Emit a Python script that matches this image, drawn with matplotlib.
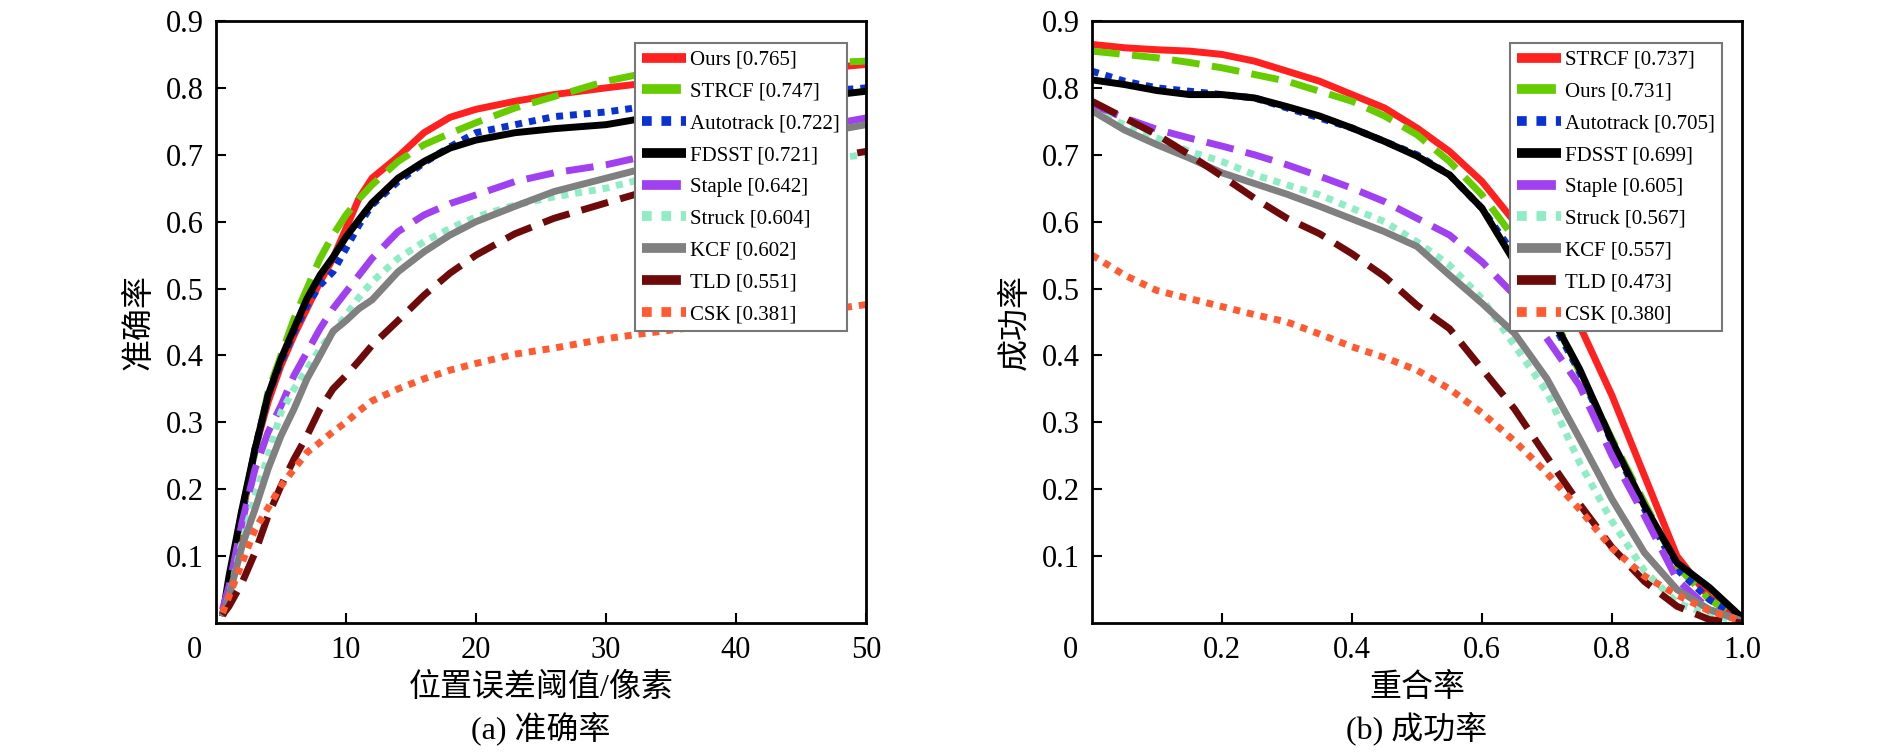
import matplotlib
matplotlib.use("Agg")
import matplotlib.pyplot as plt

plt.rcParams['font.family'] = ['Liberation Serif', 'Noto Sans CJK SC', 'DejaVu Sans']

# ---------------- data: precision plot ----------------
prec_x = [0.5, 1, 2, 3, 4, 5, 6, 7, 8, 9, 10, 11, 12, 14, 16, 18, 20, 23, 26, 30, 33, 40, 50]
prec_names = ["Ours [0.765]", "STRCF [0.747]", "Autotrack [0.722]", "FDSST [0.721]",
              "Staple [0.642]", "Struck [0.604]", "KCF [0.602]", "TLD [0.551]", "CSK [0.381]"]
prec_ours = [0.01, 0.05, 0.16, 0.26, 0.33, 0.385, 0.43, 0.47, 0.51, 0.545, 0.59, 0.635, 0.665, 0.697, 0.733, 0.756, 0.768, 0.78, 0.79, 0.80, 0.807, 0.818, 0.835]
prec_strcf = [0.01, 0.06, 0.17, 0.255, 0.345, 0.40, 0.455, 0.50, 0.545, 0.58, 0.61, 0.634, 0.655, 0.69, 0.715, 0.732, 0.748, 0.77, 0.787, 0.81, 0.822, 0.832, 0.84]
prec_autotrack = [0.01, 0.06, 0.16, 0.26, 0.34, 0.39, 0.435, 0.475, 0.505, 0.525, 0.56, 0.595, 0.625, 0.66, 0.688, 0.712, 0.733, 0.745, 0.757, 0.764, 0.772, 0.785, 0.80]
prec_fdsst = [0.01, 0.07, 0.17, 0.26, 0.34, 0.395, 0.44, 0.485, 0.52, 0.547, 0.577, 0.603, 0.628, 0.665, 0.69, 0.71, 0.722, 0.733, 0.739, 0.745, 0.755, 0.772, 0.795]
prec_staple = [0.02, 0.055, 0.15, 0.23, 0.285, 0.325, 0.37, 0.405, 0.44, 0.47, 0.495, 0.52, 0.545, 0.585, 0.61, 0.627, 0.64, 0.66, 0.673, 0.685, 0.698, 0.72, 0.755]
prec_struck = [0.01, 0.04, 0.12, 0.19, 0.25, 0.315, 0.35, 0.38, 0.41, 0.435, 0.46, 0.487, 0.51, 0.545, 0.57, 0.59, 0.607, 0.625, 0.637, 0.65, 0.665, 0.68, 0.70]
prec_kcf = [0.01, 0.04, 0.115, 0.17, 0.23, 0.28, 0.32, 0.365, 0.40, 0.436, 0.452, 0.47, 0.483, 0.525, 0.555, 0.58, 0.60, 0.623, 0.645, 0.665, 0.68, 0.71, 0.745]
prec_tld = [0.012, 0.025, 0.06, 0.105, 0.16, 0.205, 0.245, 0.28, 0.32, 0.35, 0.37, 0.392, 0.415, 0.452, 0.49, 0.523, 0.55, 0.582, 0.605, 0.628, 0.645, 0.672, 0.705]
prec_csk = [0.015, 0.04, 0.09, 0.14, 0.172, 0.205, 0.23, 0.255, 0.27, 0.286, 0.30, 0.317, 0.332, 0.35, 0.365, 0.378, 0.388, 0.402, 0.411, 0.425, 0.433, 0.45, 0.476]

# ---------------- data: success plot ----------------
succ_x = [0, 0.05, 0.1, 0.15, 0.2, 0.25, 0.3, 0.35, 0.4, 0.45, 0.5, 0.55, 0.6, 0.65, 0.7, 0.75, 0.8, 0.85, 0.9, 0.95, 1.0]
succ_names = ["STRCF [0.737]", "Ours [0.731]", "Autotrack [0.705]", "FDSST [0.699]",
              "Staple [0.605]", "Struck [0.567]", "KCF [0.557]", "TLD [0.473]", "CSK [0.380]"]
succ_strcf = [0.865, 0.86, 0.857, 0.855, 0.85, 0.84, 0.825, 0.81, 0.79, 0.77, 0.74, 0.705, 0.66, 0.60, 0.52, 0.445, 0.34, 0.22, 0.10, 0.038, 0.005]
succ_ours = [0.855, 0.85, 0.845, 0.838, 0.83, 0.82, 0.81, 0.795, 0.78, 0.758, 0.73, 0.69, 0.64, 0.575, 0.48, 0.375, 0.275, 0.18, 0.085, 0.035, 0.005]
succ_autotrack = [0.825, 0.81, 0.80, 0.795, 0.79, 0.785, 0.77, 0.755, 0.74, 0.72, 0.70, 0.67, 0.62, 0.55, 0.465, 0.375, 0.27, 0.17, 0.08, 0.035, 0.005]
succ_fdsst = [0.812, 0.805, 0.796, 0.79, 0.79, 0.785, 0.772, 0.758, 0.74, 0.72, 0.698, 0.67, 0.62, 0.54, 0.47, 0.38, 0.272, 0.175, 0.09, 0.053, 0.008]
succ_staple = [0.775, 0.755, 0.738, 0.725, 0.713, 0.70, 0.685, 0.668, 0.65, 0.63, 0.605, 0.58, 0.54, 0.49, 0.425, 0.355, 0.25, 0.16, 0.065, 0.02, 0.003]
succ_struck = [0.765, 0.745, 0.725, 0.705, 0.69, 0.67, 0.655, 0.64, 0.62, 0.60, 0.57, 0.535, 0.485, 0.415, 0.345, 0.24, 0.152, 0.078, 0.03, 0.012, 0.002]
succ_kcf = [0.766, 0.737, 0.715, 0.695, 0.673, 0.657, 0.641, 0.623, 0.604, 0.585, 0.563, 0.52, 0.478, 0.433, 0.365, 0.276, 0.185, 0.105, 0.05, 0.02, 0.003]
succ_tld = [0.78, 0.755, 0.73, 0.70, 0.668, 0.635, 0.605, 0.582, 0.552, 0.518, 0.475, 0.44, 0.38, 0.32, 0.248, 0.178, 0.113, 0.062, 0.025, 0.005, 0.0]
succ_csk = [0.55, 0.52, 0.497, 0.485, 0.473, 0.461, 0.45, 0.432, 0.413, 0.397, 0.378, 0.35, 0.314, 0.272, 0.224, 0.17, 0.112, 0.07, 0.042, 0.018, 0.003]

prec_series = [prec_ours, prec_strcf, prec_autotrack, prec_fdsst, prec_staple,
               prec_struck, prec_kcf, prec_tld, prec_csk]
succ_series = [succ_strcf, succ_ours, succ_autotrack, succ_fdsst, succ_staple,
               succ_struck, succ_kcf, succ_tld, succ_csk]

# styles by rank
colors = ['#ff2020', '#66cc00', '#0a32d2', '#000000', '#a040f0',
          '#8eedc4', '#808080', '#6e0a0a', '#ff5a30']
DASH = (0, (4.0, 1.8))
DOT = (0, (1.0, 1.0))
styles = ['-', DASH, DOT, '-', DASH, DOT, '-', DASH, DOT]
LW = 5

fig = plt.figure(figsize=(18.9, 7.54), dpi=100)
W, H = 1890.0, 754.0
ax1 = fig.add_axes([216 / W, (H - 623) / H, 650 / W, 602 / H])
ax2 = fig.add_axes([1092 / W, (H - 623) / H, 650 / W, 602 / H])


def style_axes(ax, xlim, xticks, xticklabels, zero_label):
    ax.set_xlim(*xlim)
    ax.set_ylim(0, 0.9)
    ax.set_xticks(xticks)
    ax.set_xticklabels(xticklabels)
    yt = [0.1, 0.2, 0.3, 0.4, 0.5, 0.6, 0.7, 0.8, 0.9]
    ax.set_yticks(yt)
    ax.set_yticklabels(["%.1f" % v for v in yt])
    ax.tick_params(direction='in', length=7, width=1.5, labelsize=22, pad=9)
    for s in ax.spines.values():
        s.set_linewidth(2)
    ax.text(-22 / 650.0, -0.021, zero_label, transform=ax.transAxes,
            ha='center', va='top', fontsize=22)


for vals, name, c, ls in zip(prec_series, prec_names, colors, styles):
    ax1.plot(prec_x, vals, color=c, linestyle=ls, linewidth=LW, label=name,
             solid_capstyle='butt', dash_capstyle='butt')
for vals, name, c, ls in zip(succ_series, succ_names, colors, styles):
    ax2.plot(succ_x, vals, color=c, linestyle=ls, linewidth=LW, label=name,
             solid_capstyle='butt', dash_capstyle='butt')

style_axes(ax1, (0, 50), [10, 20, 30, 40, 50], ["10", "20", "30", "40", "50"], "0")
style_axes(ax2, (0, 1.0), [0.2, 0.4, 0.6, 0.8, 1.0], ["0.2", "0.4", "0.6", "0.8", "1.0"], "0")

ax1.set_ylabel("准确率", fontsize=23, labelpad=8)
ax2.set_ylabel("成功率", fontsize=23, labelpad=8)
ax1.set_xlabel("位置误差阈值/像素", fontsize=23, labelpad=6)
ax2.set_xlabel("重合率", fontsize=23, labelpad=6)

fig.text((216 + 325) / W, 1 - 728 / H, "(a) 准确率", ha='center', va='center', fontsize=23)
fig.text((1092 + 325) / W, 1 - 728 / H, "(b) 成功率", ha='center', va='center', fontsize=23)

for ax, bx in ((ax1, 0.644), (ax2, 0.643)):
    leg = ax.legend(loc='upper left', bbox_to_anchor=(bx, 0.9635), borderaxespad=0,
                    fontsize=15, frameon=True, fancybox=False, framealpha=1,
                    handlelength=2.1, handletextpad=0.2, labelspacing=0.585,
                    borderpad=0.35)
    leg.get_frame().set_edgecolor('#777777')
    leg.get_frame().set_linewidth(1.5)
    for ln in leg.get_lines():
        ln.set_linewidth(7)

fig.savefig("out.png", dpi=100)
